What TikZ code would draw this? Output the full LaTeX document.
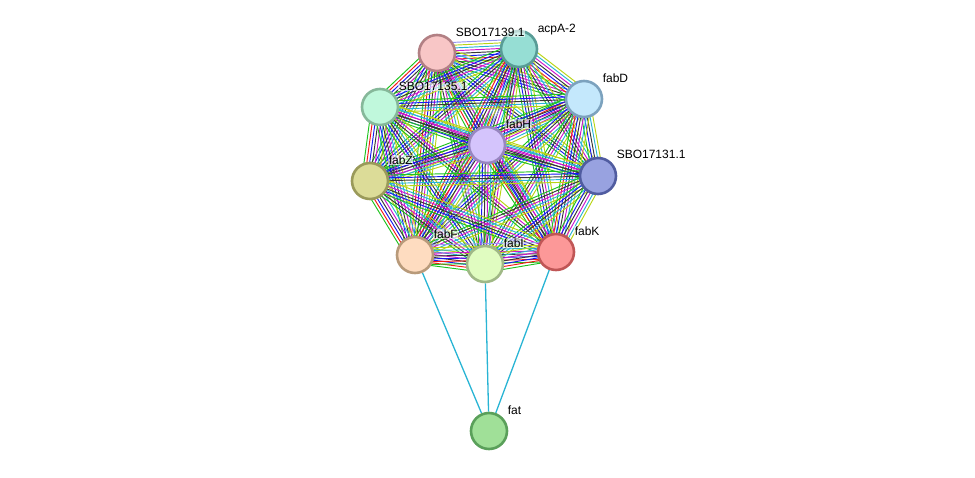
\documentclass[tikz,border=0pt]{standalone}
\usepackage{fontspec}
\setmainfont{Liberation Sans}
\usetikzlibrary{calc}
\pgfdeclarelayer{bg}
\pgfsetlayers{bg,main}
\definecolor{Egreen}{RGB}{30,195,30}
\definecolor{Ered}{RGB}{245,25,25}
\definecolor{Eblue}{RGB}{25,25,240}
\definecolor{Eblack}{RGB}{55,55,55}
\definecolor{Emag}{RGB}{205,20,205}
\definecolor{Ecyan}{RGB}{40,180,212}
\definecolor{Eyel}{RGB}{185,212,20}
\definecolor{Elil}{RGB}{150,150,240}
\newcommand\bundle[3]{%
  \edef\lst{#3}%
  \gdef\nn{0}%
  \foreach \c in \lst {\pgfmathtruncatemacro\tmp{\nn+1}\global\let\nn\tmp}%
  \foreach \c [count=\i] in \lst {%
    \pgfmathsetmacro\off{(\i-(\nn+1)/2)*2.8}%
    \draw[edgeline, color=\c] ($(#1.center)!\off pt!90:(#2.center)$) -- ($(#2.center)!\off pt!-90:(#1.center)$);}}
\def\LA{Egreen,Ered,Eblue,Eblack,Emag,Ecyan,Eyel}
\def\LB{Egreen,Eblue,Eblack,Emag,Ecyan,Eyel}
\def\LC{Egreen,Eblack,Emag,Ecyan,Eyel}
\def\LD{Egreen,Ered,Eblue,Eblack,Emag,Ecyan,Eyel,Elil}
\def\LE{Egreen,Eblue,Eblack,Ecyan,Eyel}
\def\LF{Egreen,Eblack,Emag,Eyel}
\begin{document}
\begin{tikzpicture}[x=1pt,y=-1pt,
  prot/.style={circle, minimum size=36pt, inner sep=0pt, line width=2.6pt},
  lab/.style={anchor=base west, font=\fontsize{12}{14}\selectfont, inner sep=0.6pt, fill=white, fill opacity=0.6, text opacity=1},
  edgeline/.style={line width=0.95pt},
  fatedge/.style={line width=1.3pt, draw=Ecyan}]
\useasboundingbox (0,0) rectangle (975,477);
\node[prot, fill={rgb,255:red,248;green,198;blue,198}, draw={rgb,255:red,178;green,128;blue,132}] (SA) at (437,53) {};
\node[prot, fill={rgb,255:red,150;green,222;blue,212}, draw={rgb,255:red,88;green,156;blue,150}] (AC) at (519,49) {};
\node[prot, fill={rgb,255:red,196;green,232;blue,252}, draw={rgb,255:red,124;green,162;blue,190}] (FD) at (584,99) {};
\node[prot, fill={rgb,255:red,192;green,248;blue,220}, draw={rgb,255:red,134;green,184;blue,154}] (SB) at (380,107) {};
\node[prot, fill={rgb,255:red,212;green,196;blue,252}, draw={rgb,255:red,152;green,134;blue,192}] (FH) at (487,145) {};
\node[prot, fill={rgb,255:red,152;green,162;blue,224}, draw={rgb,255:red,80;green,92;blue,160}] (SC) at (598,176) {};
\node[prot, fill={rgb,255:red,220;green,220;blue,152}, draw={rgb,255:red,154;green,154;blue,90}] (FZ) at (370,181) {};
\node[prot, fill={rgb,255:red,254;green,220;blue,192}, draw={rgb,255:red,184;green,154;blue,122}] (FF) at (415,255) {};
\node[prot, fill={rgb,255:red,224;green,252;blue,192}, draw={rgb,255:red,160;green,184;blue,134}] (FI) at (485,264) {};
\node[prot, fill={rgb,255:red,252;green,152;blue,152}, draw={rgb,255:red,192;green,86;blue,86}] (FK) at (556,252) {};
\node[prot, fill={rgb,255:red,160;green,224;blue,152}, draw={rgb,255:red,90;green,160;blue,90}] (FT) at (489,431) {};
\node[lab] (lSA) at ($(SA)+(18,-16.5)$) {SBO17139.1};
\node[lab] (lAC) at ($(AC)+(18,-16.5)$) {acpA-2};
\node[lab] (lFD) at ($(FD)+(18,-16.5)$) {fabD};
\node[lab] (lSB) at ($(SB)+(18,-16.5)$) {SBO17135.1};
\node[lab] (lFH) at ($(FH)+(18,-16.5)$) {fabH};
\node[lab] (lSC) at ($(SC)+(18,-17.5)$) {SBO17131.1};
\node[lab] (lFZ) at ($(FZ)+(18,-16.5)$) {fabZ};
\node[lab] (lFF) at ($(FF)+(18,-16.5)$) {fabF};
\node[lab] (lFI) at ($(FI)+(18,-16.5)$) {fabI};
\node[lab] (lFK) at ($(FK)+(18,-16.5)$) {fabK};
\node[lab] (lFT) at ($(FT)+(18,-16.5)$) {fat};
\begin{pgfonlayer}{bg}
\bundle{SA}{AC}{\LD}
\bundle{SA}{FD}{\LB}
\bundle{SA}{SB}{\LA}
\bundle{SA}{FH}{\LD}
\bundle{SA}{SC}{\LE}
\bundle{SA}{FZ}{\LB}
\bundle{SA}{FF}{\LA}
\bundle{SA}{FI}{\LC}
\bundle{SA}{FK}{\LB}
\bundle{AC}{FD}{\LA}
\bundle{AC}{SB}{\LB}
\bundle{AC}{FH}{\LA}
\bundle{AC}{SC}{\LC}
\bundle{AC}{FZ}{\LB}
\bundle{AC}{FF}{\LD}
\bundle{AC}{FI}{\LF}
\bundle{AC}{FK}{\LB}
\bundle{FD}{SB}{\LE}
\bundle{FD}{FH}{\LA}
\bundle{FD}{SC}{\LE}
\bundle{FD}{FZ}{\LB}
\bundle{FD}{FF}{\LB}
\bundle{FD}{FI}{\LC}
\bundle{FD}{FK}{\LA}
\bundle{SB}{FH}{\LB}
\bundle{SB}{SC}{\LC}
\bundle{SB}{FZ}{\LA}
\bundle{SB}{FF}{\LB}
\bundle{SB}{FI}{\LE}
\bundle{SB}{FK}{\LF}
\bundle{FH}{SC}{\LB}
\bundle{FH}{FZ}{\LB}
\bundle{FH}{FF}{\LD}
\bundle{FH}{FI}{\LB}
\bundle{FH}{FK}{\LA}
\bundle{SC}{FZ}{\LE}
\bundle{SC}{FF}{\LC}
\bundle{SC}{FI}{\LE}
\bundle{SC}{FK}{\LB}
\bundle{FZ}{FF}{\LA}
\bundle{FZ}{FI}{\LC}
\bundle{FZ}{FK}{\LB}
\bundle{FF}{FI}{\LA}
\bundle{FF}{FK}{\LD}
\bundle{FI}{FK}{\LA}
\draw[fatedge] (FT) -- (FF);
\draw[fatedge] (FT) -- (FI);
\draw[fatedge] (FT) -- (FK);
\end{pgfonlayer}
\end{tikzpicture}
\end{document}
